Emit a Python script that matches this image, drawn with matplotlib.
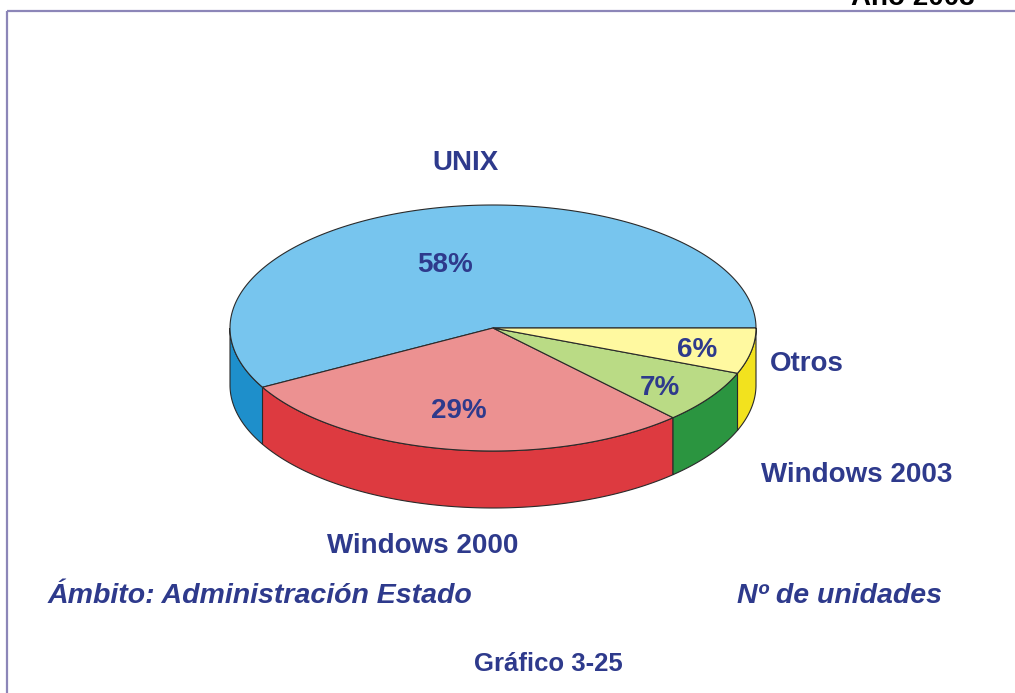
import numpy as np
import matplotlib.pyplot as plt
from matplotlib.patches import Polygon

# Data
labels = ["UNIX", "Windows 2000", "Windows 2003", "Otros"]
shares = [58, 29, 7, 6]
top_colors = ["#77C5EE", "#EC9191", "#BADB85", "#FFF9A0"]
side_colors = ["#1E8FCB", "#DD3A40", "#2B9540", "#F2E21E"]

# Pie geometry in pixel coordinates
cx, cy = 493, 328
rx, ry = 263, 123
depth = 57

navy = "#2E3A8C"
edge = "#2a2a2a"

plt.rcParams["font.family"] = ["Liberation Sans", "DejaVu Sans"]

fig = plt.figure(figsize=(10.15, 6.93), dpi=100)
ax = fig.add_axes([0, 0, 1, 1])
ax.set_xlim(0, 1015)
ax.set_ylim(693, 0)
ax.axis("off")


def rim(a1, a2, n=200):
    t = np.radians(np.linspace(a1, a2, n))
    return cx + rx * np.cos(t), cy - ry * np.sin(t)


# wedge angles, counter-clockwise from 3 o'clock
bounds = np.concatenate([[0], np.cumsum(shares) / sum(shares) * 360])

# side walls (front half only)
for i in range(len(shares)):
    a1, a2 = max(bounds[i], 180), min(bounds[i + 1], 360)
    if a2 <= a1:
        continue
    x, y = rim(a1, a2)
    pts = np.column_stack([np.concatenate([x, x[::-1]]),
                           np.concatenate([y, y[::-1] + depth])])
    ax.add_patch(Polygon(pts, closed=True, facecolor=side_colors[i],
                         edgecolor=edge, lw=0.8))

# top faces
for i in range(len(shares)):
    x, y = rim(bounds[i], bounds[i + 1])
    pts = np.column_stack([np.concatenate([[cx], x]), np.concatenate([[cy], y])])
    ax.add_patch(Polygon(pts, closed=True, facecolor=top_colors[i],
                         edgecolor=edge, lw=0.8))

# percentage labels
pct_pos = [(445, 272), (459, 418), (660, 395), (697, 357)]
for s, (px, py) in zip(shares, pct_pos):
    ax.text(px, py, f"{s}%", ha="center", va="baseline", fontsize=20,
            fontweight="bold", color=navy)

# category labels
name_pos = [(466, 170), (423, 553), (857, 482), (807, 371)]
for name, (px, py) in zip(labels, name_pos):
    ax.text(px, py, name, ha="center", va="baseline", fontsize=20,
            fontweight="bold", color=navy)

ax.text(48, 603, "Ámbito: Administración Estado", ha="left", va="baseline",
        fontsize=20.5, fontweight="bold", fontstyle="italic", color=navy)
ax.text(942, 603, "Nº de unidades", ha="right", va="baseline",
        fontsize=20.5, fontweight="bold", fontstyle="italic", color=navy)
ax.text(548, 671, "Gráfico 3-25", ha="center", va="baseline",
        fontsize=18.5, fontweight="bold", color=navy)
ax.text(975, 5, "Año 2003", ha="right", va="baseline",
        fontsize=20, fontweight="bold", color="black")

# frame lines
ax.plot([7.5, 1015], [10.5, 10.5], color="#8C86B8", lw=1.6, solid_capstyle="butt")
ax.plot([7.5, 7.5], [10.5, 693], color="#8C86B8", lw=1.6, solid_capstyle="butt")

fig.savefig("out.png", dpi=100)
